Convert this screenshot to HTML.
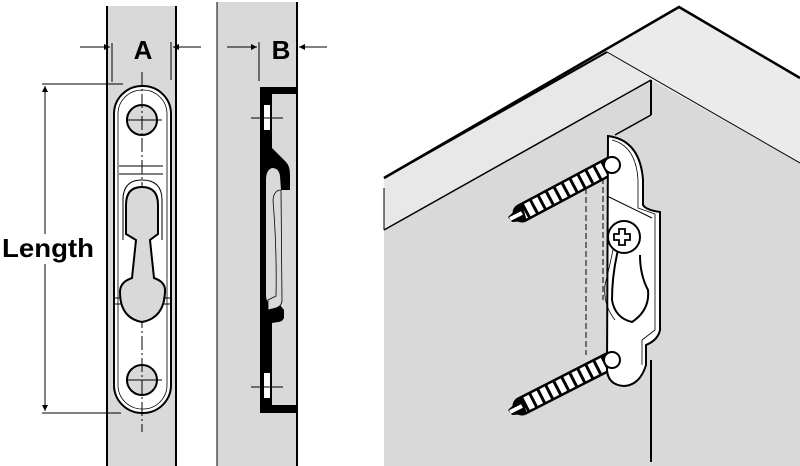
<!DOCTYPE html>
<html><head><meta charset="utf-8"><style>
html,body{margin:0;padding:0;background:#fff;width:800px;height:466px;overflow:hidden}
svg{display:block}
text{font-family:"Liberation Sans",Arial,sans-serif;font-weight:bold;fill:#000}
</style></head><body>
<svg width="800" height="466" viewBox="0 0 800 466" xmlns="http://www.w3.org/2000/svg">
<defs>
<marker id="ar" viewBox="0 0 10 10" refX="10" refY="5" markerWidth="9" markerHeight="6" orient="auto-start-reverse" markerUnits="userSpaceOnUse"><path d="M0,0 L10,5 L0,10 z" fill="#000"/></marker>
</defs>
<!-- Left strip -->
<rect x="107" y="6" width="69" height="460" fill="#d9d9d9"/>
<line x1="107" y1="6" x2="107" y2="466" stroke="#000" stroke-width="2"/>
<line x1="176" y1="6" x2="176" y2="466" stroke="#000" stroke-width="2"/>
<rect x="114" y="86" width="57" height="327" rx="28" fill="#fff" stroke="#000" stroke-width="2"/>
<rect x="118" y="90" width="49" height="319" rx="24" fill="none" stroke="#000" stroke-width="0.8"/>
<circle cx="142" cy="120" r="15" fill="#d9d9d9" stroke="#000" stroke-width="2"/>
<circle cx="142" cy="380" r="15" fill="#d9d9d9" stroke="#000" stroke-width="2"/>
<line x1="126" y1="120" x2="162" y2="120" stroke="#000" stroke-width="1"/>
<line x1="126" y1="380" x2="162" y2="380" stroke="#000" stroke-width="1"/>
<line x1="142" y1="72" x2="142" y2="432" stroke="#000" stroke-width="1" stroke-dasharray="14 3 2 3"/>
<line x1="119" y1="166" x2="163" y2="166" stroke="#000" stroke-width="1"/>
<line x1="119" y1="174" x2="163" y2="174" stroke="#000" stroke-width="1"/>
<path d="M123,240 V200 Q123,180 142,180 Q162,180 162,200 V240" fill="none" stroke="#000" stroke-width="1"/>
<path d="M126,234 V205 Q126,187 142,187 Q158,187 158,205 V234 L150,240 L154,278 Q166,282 165,292 Q164,318 142,322 Q120,318 120,292 Q120,282 132,278 L136,240 L126,234 Z" fill="#d9d9d9" stroke="#000" stroke-width="2"/>
<line x1="114" y1="298" x2="121" y2="298" stroke="#000" stroke-width="1"/>
<line x1="114" y1="304" x2="121" y2="304" stroke="#000" stroke-width="1"/>
<line x1="163" y1="298" x2="171" y2="298" stroke="#000" stroke-width="1"/>
<line x1="163" y1="304" x2="171" y2="304" stroke="#000" stroke-width="1"/>
<!-- A dimension -->
<line x1="112" y1="43" x2="112" y2="82" stroke="#000" stroke-width="1"/>
<line x1="171" y1="42" x2="171" y2="80" stroke="#000" stroke-width="1"/>
<line x1="80" y1="47" x2="110" y2="47" stroke="#000" stroke-width="1" marker-end="url(#ar)"/>
<line x1="201" y1="47" x2="173" y2="47" stroke="#000" stroke-width="1" marker-end="url(#ar)"/>
<text x="143" y="59" font-size="26" text-anchor="middle">A</text>
<!-- Length -->
<line x1="42" y1="84" x2="123" y2="84" stroke="#000" stroke-width="1"/>
<line x1="42" y1="413" x2="121" y2="413" stroke="#000" stroke-width="1"/>
<line x1="45" y1="234" x2="45" y2="86" stroke="#000" stroke-width="1" marker-end="url(#ar)"/>
<line x1="45" y1="264" x2="45" y2="411" stroke="#000" stroke-width="1" marker-end="url(#ar)"/>
<text x="2" y="257" font-size="26" textLength="92" lengthAdjust="spacingAndGlyphs">Length</text>
<!-- Middle strip -->
<rect x="217" y="2" width="80" height="464" fill="#d9d9d9"/>
<line x1="217" y1="2" x2="217" y2="466" stroke="#000" stroke-width="1"/>
<line x1="297" y1="2" x2="297" y2="466" stroke="#000" stroke-width="2"/>
<path d="M260,87 H296 V94 H272 V148 L286,162 Q290,166 290,175 V190 H281 L280,176 Q279,168 272,168 H272 Q266,170 266,180 V295 Q266,303 272,305 L280,305 L284,310 V318 Q282,322 278,322 L272,323 V405 H296 V413 H260 Z" fill="#000"/>
<rect x="264" y="105" width="6" height="25" fill="#fff"/>
<rect x="264" y="373" width="6" height="25" fill="#fff"/>
<path d="M281,190 L282,300 Q282,306 276,308 L268,310 L268,300 L276,296 Q277,250 273,200 Q274,190 281,190" fill="#d9d9d9" stroke="#000" stroke-width="0.8"/>
<line x1="251" y1="118" x2="283" y2="118" stroke="#000" stroke-width="1"/>
<line x1="251" y1="387" x2="283" y2="387" stroke="#000" stroke-width="1"/>
<line x1="259" y1="42" x2="259" y2="81" stroke="#000" stroke-width="1"/>
<line x1="227" y1="47" x2="257" y2="47" stroke="#000" stroke-width="1" marker-end="url(#ar)"/>
<line x1="327" y1="47" x2="299" y2="47" stroke="#000" stroke-width="1" marker-end="url(#ar)"/>
<text x="281" y="59" font-size="26" text-anchor="middle">B</text>
<!-- Right illustration -->
<polygon points="384,178 679,7 800,78 800,466 384,466" fill="#d9d9d9"/>
<polygon points="384,178 679,7 800,78 800,163 651,80 607,52" fill="#ebebeb"/>
<polygon points="384,178 607,52 651,80 384,230" fill="#e8e8e8"/>
<polyline points="384,178 679,7 800,78" fill="none" stroke="#000" stroke-width="2.5"/>
<line x1="384" y1="178" x2="607" y2="52" stroke="#000" stroke-width="2"/>
<line x1="607" y1="52" x2="800" y2="163" stroke="#000" stroke-width="1"/>
<line x1="384" y1="230" x2="651" y2="80" stroke="#000" stroke-width="1.5"/>
<line x1="651" y1="80" x2="651" y2="115" stroke="#000" stroke-width="2"/>
<line x1="651" y1="115" x2="615" y2="135" stroke="#000" stroke-width="1.5"/>
<line x1="384" y1="188" x2="384" y2="230" stroke="#000" stroke-width="1"/>
<line x1="651" y1="360" x2="651" y2="462" stroke="#000" stroke-width="2"/>
<!-- dashed hidden lines -->
<line x1="586" y1="170" x2="586" y2="355" stroke="#000" stroke-width="1" stroke-dasharray="6 3"/>
<line x1="603" y1="160" x2="603" y2="300" stroke="#000" stroke-width="1" stroke-dasharray="6 3"/>
<!-- screws -->
<g>
<line x1="612" y1="165" x2="522" y2="213" stroke="#000" stroke-width="19" stroke-linecap="round"/>
<line x1="612" y1="165" x2="522" y2="213" stroke="#fff" stroke-width="14" stroke-dasharray="6 3"/>
<polygon points="522,204 508,217 512,222 527,221" fill="#000"/>
<line x1="522" y1="213" x2="510" y2="219" stroke="#fff" stroke-width="4"/>
<line x1="612" y1="360" x2="522" y2="406" stroke="#000" stroke-width="19" stroke-linecap="round"/>
<line x1="612" y1="360" x2="522" y2="406" stroke="#fff" stroke-width="14" stroke-dasharray="6 3"/>
<polygon points="522,397 508,410 512,415 527,414" fill="#000"/>
<line x1="522" y1="406" x2="510" y2="412" stroke="#fff" stroke-width="4"/>
</g>
<!-- bracket plate -->
<path d="M608,136 Q640,140 643,180 V205 Q646,210 660,212 V330 Q658,340 646,345 V365 Q640,385 624,386 Q608,385 607,370 Z" fill="#fff" stroke="#000" stroke-width="2"/>
<path d="M612,140 Q636,146 638,180 V208 L655,214 V330 L642,340 V365" fill="none" stroke="#000" stroke-width="0.8"/>
<line x1="607" y1="196" x2="652" y2="218" stroke="#000" stroke-width="1"/>
<path d="M618,250 Q612,275 612,300 Q615,318 632,322 Q650,310 648,290 Q640,275 640,255" fill="none" stroke="#000" stroke-width="2"/>
<path d="M615,240 Q610,265 605,285 Q603,305 615,320" fill="none" stroke="#000" stroke-width="0.8"/>
<circle cx="624" cy="237" r="16" fill="#fff" stroke="#000" stroke-width="2"/>
<path d="M619,229 h6 v5 h5 v6 h-5 v5 h-6 v-5 h-5 v-6 h5 z" fill="#fff" stroke="#000" stroke-width="1.8"/>
<circle cx="612" cy="165" r="8" fill="#fff" stroke="#000" stroke-width="2"/>
<circle cx="612" cy="360" r="8" fill="#fff" stroke="#000" stroke-width="2"/>
</svg>
</body></html>
